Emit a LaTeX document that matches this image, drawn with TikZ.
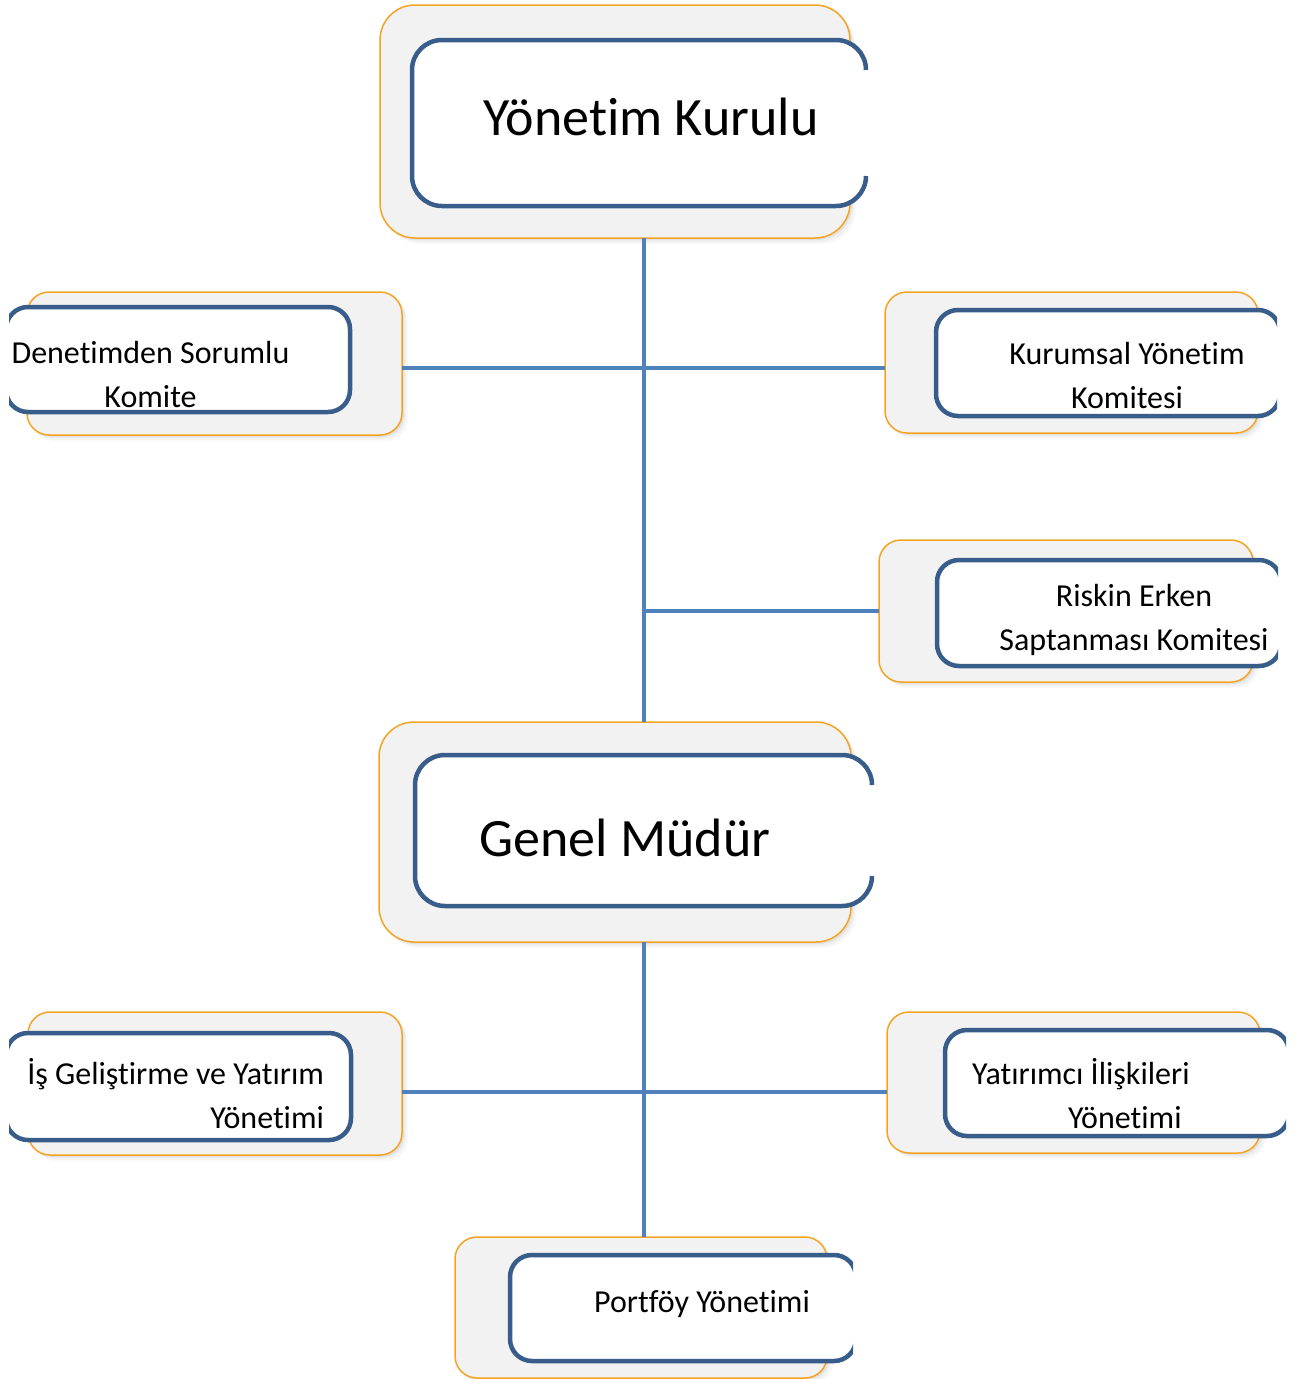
\documentclass[tikz,border=0pt]{standalone}
\usepackage{fontspec}
\setmainfont{Carlito}[Ligatures=NoCommon]
\usetikzlibrary{shadows}
\definecolor{linkblue}{HTML}{4F81BD}
\definecolor{frameblue}{HTML}{385D8A}
\definecolor{backorange}{HTML}{F6A324}
\definecolor{backgray}{HTML}{F2F2F2}

\begin{document}
\begin{tikzpicture}[x=1pt,y=-1pt]
  \tikzstyle{every node}=[inner sep=0pt,outer sep=0pt]
  \tikzstyle{backbox}=[draw=backorange,fill=backgray,line width=1.5pt,rounded corners=22pt,
    drop shadow={shadow xshift=2pt,shadow yshift=-2pt,opacity=0.12},
    drop shadow={shadow xshift=4pt,shadow yshift=-4pt,opacity=0.08},
    drop shadow={shadow xshift=6pt,shadow yshift=-6pt,opacity=0.05}]
  \tikzstyle{bigback}=[backbox,rounded corners=35pt]
  \tikzstyle{frontfill}=[fill=white,rounded corners=22pt]
  \tikzstyle{frontline}=[draw=frameblue,line width=4.5pt,rounded corners=22pt]
  \tikzstyle{link}=[draw=linkblue,line width=4pt]
  \tikzstyle{small}=[anchor=base,font=\fontsize{32}{44}\selectfont]
  \tikzstyle{big}=[anchor=base,font=\fontsize{54}{60}\selectfont]

  \useasboundingbox (0,0) rectangle (1299,1379);

  % back boxes
  \node[bigback,minimum width=470pt,minimum height=233pt] (yk) at (615,121.5) {};
  \node[backbox,minimum width=375pt,minimum height=143pt] (dsk) at (214.5,363.5) {};
  \node[backbox,minimum width=373pt,minimum height=141pt] (kyk) at (1071.5,362.5) {};
  \node[backbox,minimum width=374pt,minimum height=142pt] (resk) at (1066,611) {};
  \node[bigback,minimum width=472pt,minimum height=220pt] (gm) at (615,832) {};
  \node[backbox,minimum width=374pt,minimum height=143pt] (igyy) at (215,1083.5) {};
  \node[backbox,minimum width=373pt,minimum height=141pt] (yiy) at (1073.5,1082.5) {};
  \node[backbox,minimum width=372pt,minimum height=141pt] (py) at (641,1307.5) {};

  % connectors
  \coordinate (trunk) at (644,0);
  \coordinate (row1) at (644,368);
  \coordinate (row3) at (644,1092);
  \draw[link] (yk.south -| trunk) -- (gm.north -| trunk);
  \draw[link] (gm.south -| trunk) -- (py.north -| trunk);
  \draw[link] (dsk.east |- row1) -- (kyk.west |- row1);
  \draw[link] (resk.west) -- (resk.west -| trunk);
  \draw[link] (igyy.east |- row3) -- (yiy.west |- row3);

  % front boxes, open on the cut side
  \begin{scope}
    \clip (0,0) rectangle (868,1379);
    \fill[frontfill,rounded corners=30pt] (412,40) rectangle (866,206);
    \draw[frontline,rounded corners=30pt] (866,70) |- (412,40) |- (866,206) -- (866,176);
  \end{scope}
  \begin{scope}
    \clip (0,0) rectangle (874,1379);
    \fill[frontfill,rounded corners=30pt] (415,755) rectangle (872,906);
    \draw[frontline,rounded corners=30pt] (872,785) |- (415,755) |- (872,906) -- (872,876);
  \end{scope}
  \begin{scope}
    \clip (9,0) rectangle (1299,1379);
    \fill[frontfill] (6,307) rectangle (350,412);
    \draw[frontline] (6,329) |- (350,307) |- (6,412) -- (6,390);
    \fill[frontfill] (6,1033) rectangle (351,1140);
    \draw[frontline] (6,1055) |- (351,1033) |- (6,1140) -- (6,1118);
  \end{scope}
  \begin{scope}
    \clip (0,0) rectangle (1277,1379);
    \fill[frontfill] (936,310) rectangle (1280,416);
    \draw[frontline] (1280,332) |- (936,310) |- (1280,416) -- (1280,394);
  \end{scope}
  \begin{scope}
    \clip (0,0) rectangle (1278,1379);
    \fill[frontfill] (937,560) rectangle (1281,666);
    \draw[frontline] (1281,582) |- (937,560) |- (1281,666) -- (1281,644);
  \end{scope}
  \begin{scope}
    \clip (0,0) rectangle (1286,1379);
    \fill[frontfill] (945,1030) rectangle (1289,1136);
    \draw[frontline] (1289,1052) |- (945,1030) |- (1289,1136) -- (1289,1114);
  \end{scope}
  \begin{scope}
    \clip (0,0) rectangle (853,1379);
    \fill[frontfill] (510,1255) rectangle (856,1361);
    \draw[frontline] (856,1277) |- (510,1255) |- (856,1361) -- (856,1339);
  \end{scope}

  % labels (multi-line ones sit on the last line)
  \node[big] (yktext) at (651,135) {Yönetim Kurulu};
  \node[big] (gmtext) at (625,856) {Genel Müdür};
  \node[small,align=center] (dsktext) at (150.5,407) {Denetimden Sorumlu\\Komite};
  \node[small,align=center] (kyktext) at (1127,408) {Kurumsal Yönetim\\Komitesi};
  \node[small,align=center] (resktext) at (1134,650) {Riskin Erken\\Saptanması Komitesi};
  \node[small,anchor=base east,align=right] (igyytext) at (324,1128) {İş Geliştirme ve Yatırım\\Yönetimi};
  \node[small,anchor=base west,align=left] (yiytext) at (972,1128) {Yatırımcı İlişkileri\\\hspace*{96pt}Yönetimi};
  \node[small] (pytext) at (702,1312) {Portföy Yönetimi};
\end{tikzpicture}
\end{document}
